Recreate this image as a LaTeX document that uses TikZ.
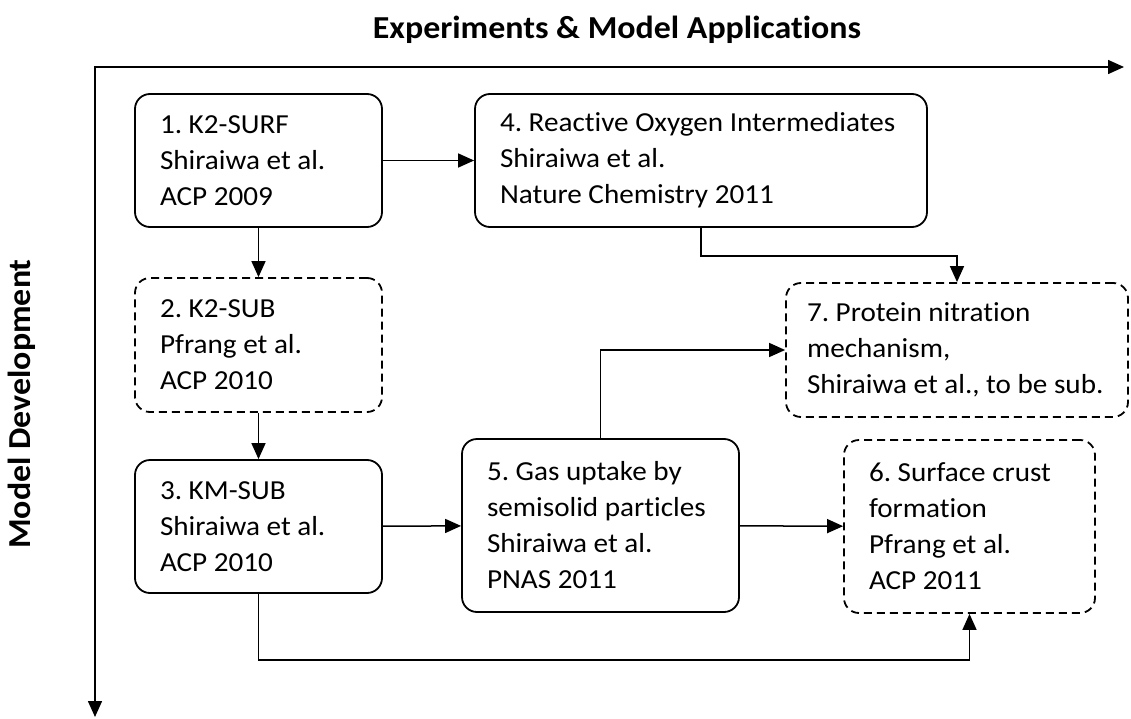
\documentclass[tikz,border=0pt]{standalone}
\usepackage{fontspec}
\setmainfont{Carlito}[FakeStretch=1.06, Ligatures=NoCommon]
\usetikzlibrary{arrows.meta}
\frenchspacing

\tikzset{
  box/.style={draw=black, line width=1.8pt, rounded corners=15pt, align=flush left,
              inner xsep=25pt, text width=#1, minimum height=133pt,
              font=\fontsize{27.5}{36}\selectfont},
  planned/.style={box=#1, dash pattern=on 8pt off 5pt},
  link/.style={line width=1.5pt, -{Triangle[length=16pt,width=14pt]}},
  axislabel/.style={font=\fontsize{32}{36}\selectfont\bfseries}
}

\begin{document}
\begin{tikzpicture}[x=1pt,y=-1pt]
                \useasboundingbox (0,0) rectangle (1131,719);

                %% axes
                \coordinate (origin) at (95,67);
                \coordinate (xend) at (1124,67);
                \coordinate (yend) at (95,717);
                \draw[line width=1.5pt, {Triangle[length=16pt,width=14pt]}-{Triangle[length=16pt,width=14pt]}]
                    (xend) -- (origin) -- (yend);
                \node[axislabel] (xlabel) at (617,30) {Experiments \& Model Applications};
                \node[axislabel, rotate=90] (ylabel) at (22,404) {Model Development};

                %% models
                \node[box=197pt] (surf) at (258.5,160.5) {1. K2-SURF\\Shiraiwa et al.\\ACP 2009};
                \node[planned=197pt, minimum height=134pt] (sub) at (258.5,345) {2. K2-SUB\\Pfrang et al.\\ACP 2010};
                \node[box=197pt] (kmsub) at (258.5,526.5) {3. KM-SUB\\Shiraiwa et al.\\ACP 2010};

                %% applications
                \node[box=402pt] (roi) at (701,160.5) {4. Reactive Oxygen Intermediates\\Shiraiwa et al.\\Nature Chemistry 2011};
                \node[box=227pt, minimum height=173pt] (uptake) at (600.5,525.5) {5. Gas uptake by\\semisolid particles\\Shiraiwa et al.\\PNAS 2011};
                \node[planned=201pt, minimum height=173pt] (crust) at (969.5,526.5) {6. Surface crust\\formation\\Pfrang et al.\\ACP 2011};
                \node[planned=300pt, inner xsep=21pt, minimum height=134pt] (nitr) at (957,350) {7. Protein nitration\\mechanism,\\Shiraiwa et al., to be sub.};

                %% links
                \draw[link] (surf) -- (roi);
                \draw[link] (surf) -- (sub);
                \draw[link] (sub) -- (kmsub);
                \draw[link] (kmsub) -- (uptake);
                \draw[link] (uptake) -- (crust);
                \draw[link] (roi.south) -- ++(0,28) -| (nitr.north);
                \draw[link] (uptake.north) |- (nitr.west);
                \draw[link] (kmsub.south) -- ++(0,66) -| (crust.south);

\end{tikzpicture}
\end{document}
